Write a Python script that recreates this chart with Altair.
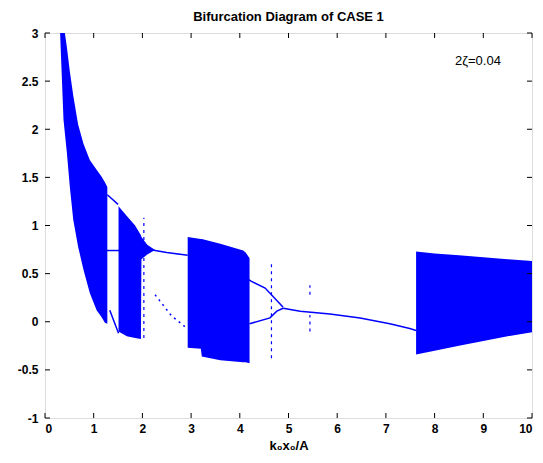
import altair as alt
import pandas as pd

# ---- chaotic band envelopes (x, upper, lower) ----
b1_x = [0.31, 0.38, 0.45, 0.51, 0.58, 0.68, 0.79, 0.92, 1.06, 1.16, 1.23, 1.28]
b1_hi = [3.25, 3.10, 2.85, 2.60, 2.35, 2.05, 1.85, 1.68, 1.58, 1.51, 1.45, 1.40]
b1_lo = [3.00, 2.10, 1.75, 1.40, 1.06, 0.78, 0.54, 0.30, 0.12, 0.05, -0.01, -0.02]

b2_x = [1.51, 1.68, 1.85, 1.97, 1.98, 2.10, 2.26]
b2_hi = [1.20, 1.10, 1.00, 0.90, 0.88, 0.80, 0.745]
b2_lo = [-0.10, -0.15, -0.17, -0.18, 0.65, 0.70, 0.745]

b3_x = [2.93, 3.20, 3.22, 3.60, 4.07, 4.12, 4.20]
b3_hi = [0.88, 0.86, 0.86, 0.81, 0.74, 0.72, 0.66]
b3_lo = [-0.27, -0.28, -0.36, -0.40, -0.42, -0.42, -0.43]

b4_x = [7.62, 8.0, 8.5, 9.0, 9.5, 10.0]
b4_hi = [0.73, 0.71, 0.69, 0.67, 0.65, 0.63]
b4_lo = [-0.34, -0.30, -0.25, -0.20, -0.15, -0.11]

# ---- periodic branches ----
gap_mid_x, gap_mid_y = [1.27, 1.52], [0.74, 0.74]
gap_up_x, gap_up_y = [1.28, 1.50], [1.32, 1.22]
gap_lo_x, gap_lo_y = [1.33, 1.51], [0.12, -0.12]
p2_up_x, p2_up_y = [2.20, 2.50, 2.93], [0.745, 0.72, 0.69]
br_up_x, br_up_y = [4.14, 4.24, 4.52, 4.89], [0.45, 0.42, 0.35, 0.15]
br_lo_x, br_lo_y = [4.20, 4.62, 4.76, 4.89], [-0.02, 0.04, 0.11, 0.14]
main_x = [4.89, 5.24, 5.85, 6.47, 7.08, 7.49, 7.62]
main_y = [0.14, 0.11, 0.08, 0.04, -0.02, -0.07, -0.09]
# sparse (dotted) branch
p2_lo_x, p2_lo_y = [2.26, 2.60, 2.87], [0.28, 0.06, -0.05]

# sparse vertical columns: x, y from, y to
col_x = [2.03, 4.65, 5.44, 5.44]
col_y1 = [-0.17, -0.38, 0.28, -0.10]
col_y2 = [1.08, 0.64, 0.38, 0.07]

x_ticks = list(range(0, 11))
y_ticks = [-1, -0.5, 0, 0.5, 1, 1.5, 2, 2.5, 3]

BLUE = "#0000ff"
W, H = 487, 385
FONT = "Liberation Sans"

bands = pd.concat([
    pd.DataFrame({"band": name, "x": xs, "hi": hi, "lo": lo})
    for name, xs, hi, lo in [("b1", b1_x, b1_hi, b1_lo), ("b2", b2_x, b2_hi, b2_lo),
                             ("b3", b3_x, b3_hi, b3_lo), ("b4", b4_x, b4_hi, b4_lo)]
])
lines = pd.concat([
    pd.DataFrame({"seg": name, "x": xs, "y": ys})
    for name, xs, ys in [("gm", gap_mid_x, gap_mid_y), ("gu", gap_up_x, gap_up_y),
                         ("gl", gap_lo_x, gap_lo_y), ("pu", p2_up_x, p2_up_y),
                         ("bu", br_up_x, br_up_y), ("bl", br_lo_x, br_lo_y),
                         ("mn", main_x, main_y)]
])
dotted = pd.DataFrame({"seg": "pl", "x": p2_lo_x, "y": p2_lo_y})
cols = pd.DataFrame({"x": col_x, "y1": col_y1, "y2": col_y2})

xs = alt.Scale(domain=[0, 10], nice=False, zero=False)
ys = alt.Scale(domain=[-1, 3], nice=False, zero=False)

x_axis = alt.Axis(values=x_ticks, ticks=False, domain=False, grid=False,
                  labelFont=FONT, labelFontSize=12, labelFontWeight="bold", labelColor="black",
                  labelPadding=5, title="k₀x₀/A", titleFont=FONT, titleFontSize=13,
                  titleFontWeight="bold", titleColor="black", titlePadding=5)
y_axis = alt.Axis(values=y_ticks, ticks=False, domain=False, grid=False,
                  labelFont=FONT, labelFontSize=12, labelFontWeight="bold", labelColor="black",
                  labelPadding=7, labelExpr="'' + datum.value", title=None)

area = alt.Chart(bands).mark_area(color=BLUE, clip=True, interpolate="linear").encode(
    x=alt.X("x:Q", scale=xs, axis=x_axis),
    y=alt.Y("hi:Q", scale=ys, axis=y_axis),
    y2="lo:Q",
    detail="band:N",
)
line = alt.Chart(lines).mark_line(color=BLUE, strokeWidth=1.5, clip=True).encode(
    x=alt.X("x:Q", scale=xs), y=alt.Y("y:Q", scale=ys), detail="seg:N")
dline = alt.Chart(dotted).mark_line(color=BLUE, strokeWidth=1.5, strokeDash=[2, 4]).encode(
    x=alt.X("x:Q", scale=xs), y=alt.Y("y:Q", scale=ys))
colr = alt.Chart(cols).mark_rule(color=BLUE, strokeWidth=1.2, strokeDash=[3, 4]).encode(
    x=alt.X("x:Q", scale=xs), y=alt.Y("y1:Q", scale=ys), y2="y2:Q")

xt = pd.DataFrame({"v": x_ticks})
yt = pd.DataFrame({"v": y_ticks})
tick_xb = alt.Chart(xt).mark_rule(color="black").encode(
    x=alt.X("v:Q", scale=xs), y=alt.value(H), y2=alt.value(H - 5))
tick_xt = alt.Chart(xt).mark_rule(color="black").encode(
    x=alt.X("v:Q", scale=xs), y=alt.value(0), y2=alt.value(5))
tick_yl = alt.Chart(yt).mark_rule(color="black").encode(
    y=alt.Y("v:Q", scale=ys), x=alt.value(0), x2=alt.value(5))
tick_yr = alt.Chart(yt).mark_rule(color="black").encode(
    y=alt.Y("v:Q", scale=ys), x=alt.value(W), x2=alt.value(W - 5))

ann = alt.Chart(pd.DataFrame({"x": [8.42], "y": [2.71], "t": ["2ζ=0.04"]})).mark_text(
    align="left", baseline="middle", font=FONT, fontSize=13, color="black").encode(
    x=alt.X("x:Q", scale=xs), y=alt.Y("y:Q", scale=ys), text="t:N")

chart = alt.layer(area, line, dline, colr, tick_xb, tick_xt, tick_yl, tick_yr, ann).properties(
    width=W, height=H,
    title=alt.TitleParams("Bifurcation Diagram of CASE 1", font=FONT, fontSize=13,
                          fontWeight="bold", color="black", offset=3, anchor="middle"),
    autosize=alt.AutoSizeParams(type="none"),
    padding={"left": 45, "top": 33, "right": 11, "bottom": 45},
).configure_view(stroke="black", strokeWidth=1).configure(background="white")

chart.save("out.html", embed_options={"renderer": "svg", "actions": False})
